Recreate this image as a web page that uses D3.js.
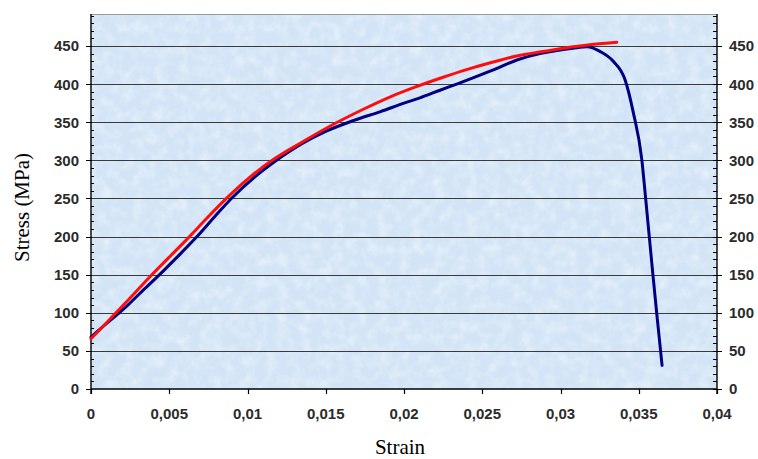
<!DOCTYPE html>
<html>
<head>
<meta charset="utf-8">
<script src="https://cdn.jsdelivr.net/npm/d3@7"></script>
<style>
  body { margin: 0; background: #fff; }
  svg { display: block; }
</style>
</head>
<body>
<svg id="chart" width="758" height="459"></svg>
<script>
(function () {
    'use strict';

    // test curve (blue) and model curve (red)
    const testStrain = [0, 0.001, 0.00204, 0.0031, 0.00428, 0.0055, 0.00673, 0.0079, 0.00897, 0.0104,
        0.01186, 0.0135, 0.015, 0.01674, 0.0185, 0.02, 0.02102, 0.0223, 0.02337, 0.0255, 0.02741,
        0.02869, 0.0308, 0.0317, 0.03252, 0.03337, 0.03412, 0.03465, 0.03519, 0.03545, 0.0359,
        0.03617, 0.03649];
    const testStress = [68, 86, 104, 125, 148, 173, 199, 226, 250, 277,
        300, 322, 338, 352, 364, 375, 382, 392, 400, 417, 433,
        440, 447, 449, 443, 430, 406, 363, 302, 248, 151,
        95, 31];

    const modelStrain = [0, 0.0009, 0.00183, 0.0028, 0.00375, 0.005, 0.0062, 0.0074, 0.00865, 0.0101,
        0.01165, 0.0135, 0.01538, 0.0175, 0.0192, 0.0207, 0.0225, 0.024, 0.0257, 0.0272,
        0.029, 0.0308, 0.032, 0.0336];
    const modelStress = [66, 85, 105, 126, 147, 173, 198, 224, 250, 277,
        301, 324, 346, 368, 384, 396, 409, 419, 429, 437,
        443, 449, 452, 455];

    const xTicks = [0, 0.005, 0.01, 0.015, 0.02, 0.025, 0.03, 0.035, 0.04];
    const yTicks = [0, 50, 100, 150, 200, 250, 300, 350, 400, 450];

    const left = 91, right = 717, top = 14, bottom = 389;

    const x = d3.scaleLinear().domain([0, 0.04]).range([left, right]);
    const y = d3.scaleLinear().domain([0, 492]).range([bottom, top]);

    const fmtX = d => d3.format("")(d).replace(".", ",");

    const svg = d3.select("#chart");

    // paper-like texture for the plot area
    const defs = svg.append("defs");
    const filter = defs.append("filter").attr("id", "paper")
        .attr("x", 0).attr("y", 0).attr("width", "100%").attr("height", "100%");
    filter.append("feTurbulence")
        .attr("type", "fractalNoise")
        .attr("baseFrequency", "0.09")
        .attr("numOctaves", 3)
        .attr("seed", 7)
        .attr("result", "noise");
    filter.append("feColorMatrix")
        .attr("in", "noise")
        .attr("type", "matrix")
        .attr("values", "0 0 0 0 1  0 0 0 0 1  0 0 0 0 1  0 0 0 1.8 -0.7")
        .attr("result", "spots");
    filter.append("feComposite").attr("in", "spots").attr("in2", "SourceGraphic").attr("operator", "in");

    svg.append("rect")
        .attr("x", left).attr("y", top)
        .attr("width", right - left).attr("height", bottom - top)
        .attr("fill", "#d2e4f6");
    svg.append("rect")
        .attr("x", left).attr("y", top)
        .attr("width", right - left).attr("height", bottom - top)
        .attr("fill", "#fff")
        .attr("opacity", 0.45)
        .attr("filter", "url(#paper)");

    // top border
    svg.append("line")
        .attr("x1", left).attr("x2", right)
        .attr("y1", top + 0.5).attr("y2", top + 0.5)
        .attr("stroke", "#999").attr("stroke-width", 1);

    // grid lines
    svg.append("g")
        .selectAll("line")
        .data(yTicks.filter(d => d > 0))
        .join("line")
        .attr("x1", left).attr("x2", right)
        .attr("y1", d => Math.round(y(d)) + 0.5)
        .attr("y2", d => Math.round(y(d)) + 0.5)
        .attr("stroke", "#3a3a3a")
        .attr("stroke-width", 1.1);

    const minor = d3.range(10, 492, 10).filter(d => d % 50 !== 0);

    // left axis
    const yl = svg.append("g").attr("transform", `translate(${left},0)`);
    yl.append("line").attr("y1", top).attr("y2", bottom + 5).attr("stroke", "#000").attr("stroke-width", 1.4);
    yl.selectAll(".maj").data(yTicks).join("line").attr("class", "maj")
        .attr("x1", -5).attr("x2", 1)
        .attr("y1", d => Math.round(y(d)) + 0.5).attr("y2", d => Math.round(y(d)) + 0.5)
        .attr("stroke", "#000");
    yl.selectAll(".min").data(minor).join("line").attr("class", "min")
        .attr("x1", 0).attr("x2", 3)
        .attr("y1", d => Math.round(y(d)) + 0.5).attr("y2", d => Math.round(y(d)) + 0.5)
        .attr("stroke", "#000");
    yl.selectAll("text").data(yTicks).join("text")
        .attr("x", -12).attr("y", d => y(d))
        .attr("dy", "0.36em")
        .attr("text-anchor", "end")
        .text(d => d);

    // right axis
    const yr = svg.append("g").attr("transform", `translate(${right},0)`);
    yr.append("line").attr("y1", top).attr("y2", bottom + 5).attr("stroke", "#000").attr("stroke-width", 1.4);
    yr.selectAll(".maj").data(yTicks).join("line").attr("class", "maj")
        .attr("x1", -4).attr("x2", 5)
        .attr("y1", d => Math.round(y(d)) + 0.5).attr("y2", d => Math.round(y(d)) + 0.5)
        .attr("stroke", "#000");
    yr.selectAll(".min").data(minor).join("line").attr("class", "min")
        .attr("x1", -4).attr("x2", 0)
        .attr("y1", d => Math.round(y(d)) + 0.5).attr("y2", d => Math.round(y(d)) + 0.5)
        .attr("stroke", "#000");
    yr.selectAll("text").data(yTicks).join("text")
        .attr("x", 12).attr("y", d => y(d))
        .attr("dy", "0.36em")
        .attr("text-anchor", "start")
        .text(d => d);

    // bottom axis
    const xb = svg.append("g").attr("transform", `translate(0,${bottom})`);
    xb.append("line").attr("x1", left).attr("x2", right).attr("stroke", "#000").attr("stroke-width", 1.6);
    xb.selectAll(".maj").data(xTicks).join("line").attr("class", "maj")
        .attr("x1", d => Math.round(x(d)) + 0.5).attr("x2", d => Math.round(x(d)) + 0.5)
        .attr("y1", 0).attr("y2", 5)
        .attr("stroke", "#000").attr("stroke-width", 1.2);
    xb.selectAll("text").data(xTicks).join("text")
        .attr("x", d => x(d)).attr("y", 30)
        .attr("text-anchor", "middle")
        .text(fmtX);

    svg.selectAll("g text")
        .attr("font-family", "'Liberation Sans', Arial, sans-serif")
        .attr("font-size", 15)
        .attr("font-weight", "bold")
        .attr("fill", "#2b2b2b");

    const line = d3.line()
        .x(d => x(d[0]))
        .y(d => y(d[1]))
        .curve(d3.curveMonotoneX);

    svg.append("path")
        .datum(d3.zip(testStrain, testStress))
        .attr("d", line)
        .attr("fill", "none")
        .attr("stroke", "#000080")
        .attr("stroke-width", 3)
        .attr("stroke-linejoin", "round")
        .attr("stroke-linecap", "round");

    svg.append("path")
        .datum(d3.zip(modelStrain, modelStress))
        .attr("d", line)
        .attr("fill", "none")
        .attr("stroke", "#ff0d0d")
        .attr("stroke-width", 3)
        .attr("stroke-linejoin", "round")
        .attr("stroke-linecap", "round");

    // axis titles
    svg.append("text")
        .attr("transform", `translate(29,${(top + bottom) / 2 + 6}) rotate(-90)`)
        .attr("text-anchor", "middle")
        .attr("font-family", "'Liberation Serif', 'Times New Roman', serif")
        .attr("font-size", 21)
        .attr("fill", "#000")
        .text("Stress (MPa)");

    svg.append("text")
        .attr("x", 400).attr("y", 454)
        .attr("text-anchor", "middle")
        .attr("font-family", "'Liberation Serif', 'Times New Roman', serif")
        .attr("font-size", 21)
        .attr("fill", "#000")
        .text("Strain");
}());
</script>
</body>
</html>
